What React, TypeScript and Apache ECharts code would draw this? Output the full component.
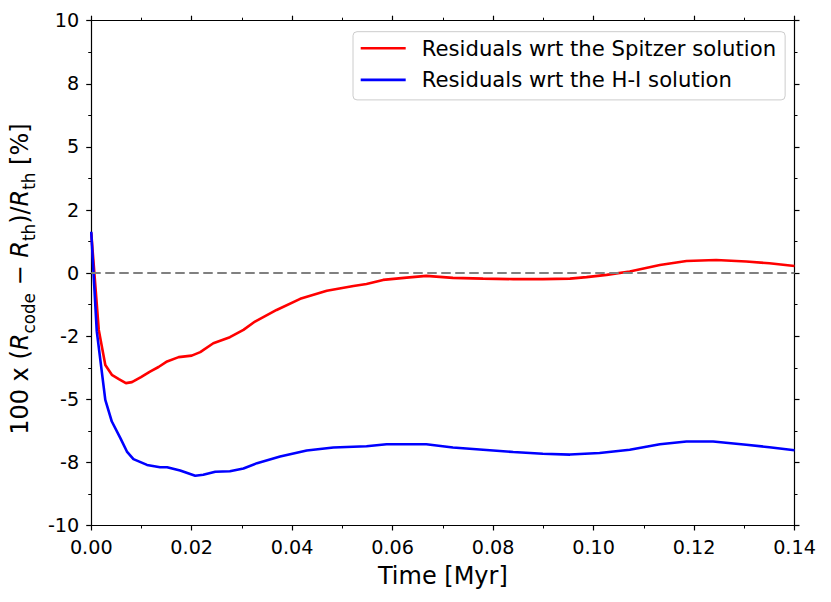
import React, { useEffect, useRef } from "react";
import * as echarts from "echarts";

// Time [Myr] and residuals [%] for the Spitzer solution
const redTime = [0, 0.0015, 0.0028, 0.0041, 0.0055, 0.0069, 0.0081, 0.0099, 0.0117, 0.0134, 0.0151, 0.0174, 0.02, 0.0217, 0.0243, 0.0276, 0.0303, 0.0326, 0.0369, 0.0416, 0.0469, 0.0522, 0.0548, 0.0581, 0.0628, 0.0667, 0.072, 0.078, 0.084, 0.0899, 0.0953, 0.0986, 0.1026, 0.1072, 0.1132, 0.1185, 0.1244, 0.1304, 0.135, 0.14];
const redValues = [1.6, -2.25, -3.64, -4.03, -4.2, -4.36, -4.32, -4.12, -3.9, -3.72, -3.5, -3.33, -3.27, -3.13, -2.78, -2.54, -2.25, -1.92, -1.46, -1.02, -0.7, -0.51, -0.43, -0.27, -0.18, -0.11, -0.19, -0.22, -0.24, -0.24, -0.22, -0.16, -0.07, 0.06, 0.32, 0.48, 0.52, 0.46, 0.39, 0.28];

// Time [Myr] and residuals [%] for the H-I solution
const blueTime = [0, 0.0011, 0.0028, 0.0041, 0.0058, 0.0071, 0.0084, 0.0111, 0.0137, 0.0151, 0.0177, 0.0207, 0.0223, 0.0247, 0.0276, 0.0303, 0.033, 0.0376, 0.0429, 0.0482, 0.0548, 0.0588, 0.0667, 0.072, 0.078, 0.084, 0.0899, 0.0953, 0.1012, 0.1072, 0.1132, 0.1185, 0.1238, 0.1304, 0.135, 0.14];
const blueValues = [1.64, -2.3, -5.02, -5.88, -6.54, -7.07, -7.37, -7.6, -7.69, -7.69, -7.82, -8.03, -7.99, -7.87, -7.85, -7.74, -7.53, -7.27, -7.03, -6.91, -6.86, -6.78, -6.78, -6.91, -7.0, -7.09, -7.16, -7.19, -7.13, -7.0, -6.78, -6.67, -6.67, -6.8, -6.9, -7.02];

const seriesNames = ["Residuals wrt the Spitzer solution", "Residuals wrt the H-I solution"];
const yTickValues = [-10, -7.5, -5, -2.5, 0, 2.5, 5, 7.5, 10];
const yTickLabels = ["-10", "-8", "-5", "-2", "0", "2", "5", "8", "10"];
const xAxisTitle = "Time [Myr]";

const FONT = "DejaVu Sans";
const TICK_FS = 19.2;
const TITLE_FS = 24;

export default function App() {
  const ref = useRef<HTMLDivElement>(null);
  useEffect(() => {
    if (!ref.current) return;
    const chart = echarts.init(ref.current, null, { renderer: "svg" });
    const axisCommon = {
      type: "value" as const,
      axisLine: { show: true, onZero: false, lineStyle: { color: "#000", width: 1.2 } },
      axisTick: { show: true, length: 5, lineStyle: { color: "#000", width: 1.2 } },
      minorTick: { show: true, splitNumber: 2, length: 3, lineStyle: { color: "#000", width: 1 } },
      splitLine: { show: false },
    };
    const option: any = {
      animation: false,
      backgroundColor: "#fff",
      grid: { left: 91, right: 36.5, top: 20.7, bottom: 76.5, containLabel: false },
      legend: {
        orient: "vertical",
        left: 353,
        top: 31.7,
        padding: [4.5, 9, 8, 7.7],
        itemWidth: 45,
        itemHeight: 2.6,
        itemGap: 7.7,
        icon: "rect",
        backgroundColor: "rgba(255,255,255,0.8)",
        borderColor: "#cccccc",
        borderWidth: 1,
        borderRadius: 4,
        textStyle: { fontFamily: FONT, fontSize: 21.2, color: "#000", lineHeight: 24, padding: [0, 0, 0, 11] },
        data: seriesNames,
      },
      xAxis: [
        {
          ...axisCommon,
          min: 0,
          max: 0.14,
          interval: 0.02,
          position: "bottom",
          name: xAxisTitle,
          nameLocation: "middle",
          nameGap: 38,
          nameTextStyle: { fontFamily: FONT, fontSize: TITLE_FS, color: "#000" },
          axisLabel: {
            fontFamily: FONT,
            fontSize: TICK_FS,
            color: "#000",
            margin: 12,
            formatter: (v: number) => v.toFixed(2),
          },
        },
        {
          ...axisCommon,
          min: 0,
          max: 0.14,
          interval: 0.02,
          position: "top",
          axisLabel: { show: false },
        },
      ],
      yAxis: [
        {
          ...axisCommon,
          min: -10,
          max: 10,
          interval: 2.5,
          position: "left",
          name: "{n|100 x (}{i|R}{s|code}{n| − }{i|R}{s|th}{n|)/}{i|R}{s|th}{n| [%]}",
          nameLocation: "middle",
          nameGap: 56,
          nameRotate: 90,
          nameTextStyle: {
            fontFamily: FONT,
            fontSize: TITLE_FS,
            color: "#000",
            padding: [0, 12, 0, 0],
            rich: {
              n: { fontFamily: FONT, fontSize: TITLE_FS, color: "#000", lineHeight: 28, verticalAlign: "bottom" },
              i: { fontFamily: FONT, fontSize: TITLE_FS, fontStyle: "italic", color: "#000", lineHeight: 28, verticalAlign: "bottom" },
              s: { fontFamily: FONT, fontSize: 16.8, color: "#000", lineHeight: 28, verticalAlign: "bottom", padding: [0, 0, -5, 0] },
            },
          },
          axisLabel: {
            fontFamily: FONT,
            fontSize: TICK_FS,
            color: "#000",
            margin: 12,
            formatter: (v: number) => {
              const idx = yTickValues.findIndex((t) => Math.abs(t - v) < 1e-9);
              return idx >= 0 ? yTickLabels[idx] : "";
            },
          },
        },
        {
          ...axisCommon,
          min: -10,
          max: 10,
          interval: 2.5,
          position: "right",
          axisLabel: { show: false },
        },
      ],
      series: [
        {
          name: seriesNames[0],
          type: "line",
          showSymbol: false,
          symbol: "none",
          smooth: false,
          color: "#ff0000",
          lineStyle: { color: "#ff0000", width: 2.6 },
          data: redTime.map((t, i) => [t, redValues[i]]),
          z: 3,
          markLine: {
            silent: true,
            symbol: "none",
            label: { show: false },
            lineStyle: { color: "#808080", width: 2.2, type: [9.5, 4.5] },
            data: [{ yAxis: 0 }],
          },
        },
        {
          name: seriesNames[1],
          type: "line",
          showSymbol: false,
          symbol: "none",
          smooth: false,
          color: "#0000ff",
          lineStyle: { color: "#0000ff", width: 2.6 },
          data: blueTime.map((t, i) => [t, blueValues[i]]),
          z: 4,
        },
      ],
    };
    chart.setOption(option);
    return () => chart.dispose();
  }, []);
  return (
    <div
      ref={ref}
      style={{ position: "absolute", left: 0, top: 0, width: 831, height: 602 }}
    />
  );
}
